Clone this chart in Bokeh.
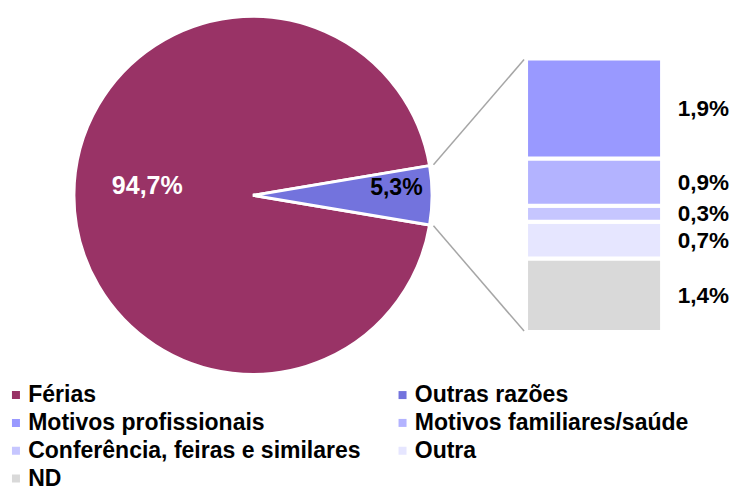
import numpy as np
from bokeh.plotting import figure
from bokeh.models import Range1d
from bokeh.core.properties import value
from bokeh.embed import file_html
from bokeh.resources import INLINE

# ---------------- data ----------------
pie_labels = ["Férias", "Outras razões"]
pie_values = [94.7, 5.3]
pie_text = ["94,7%", "5,3%"]
pie_colors = ["#993366", "#7373DD"]

bar_labels = ["Motivos profissionais", "Motivos familiares/saúde",
              "Conferência, feiras e similares", "Outra", "ND"]
bar_values = [1.9, 0.9, 0.3, 0.7, 1.4]
bar_text = ["1,9%", "0,9%", "0,3%", "0,7%", "1,4%"]
bar_colors = ["#9999FF", "#B3B3FF", "#C6C6FF", "#E6E6FF", "#D9D9D9"]

legend_labels = pie_labels + bar_labels
legend_colors = pie_colors + bar_colors

FONT = "Liberation Sans"

# ---------------- figure (layout units = 750x499 reference frame) ----------------
W, H = 734, 491
FW, FH = 750, 499
p = figure(width=W, height=H, output_backend="svg", toolbar_location=None,
           x_range=Range1d(0, FW), y_range=Range1d(-FH, 0),
           min_border=0, background_fill_color="white", border_fill_color="white")
p.axis.visible = False
p.grid.visible = False
p.outline_line_color = None

# ---------------- pie ----------------
cx, cy, R = 258, -198, 183
vals = np.array(pie_values, dtype=float)
ang = 2 * np.pi * vals / vals.sum()
half = ang[1] / 2.0
starts = [half, -half]
ends = [2 * np.pi - half, half]
p.wedge(x=[cx, cx], y=[cy, cy], radius=R, start_angle=starts, end_angle=ends,
        fill_color=pie_colors, line_color="white", line_width=3)

# ---------------- bar of pie ----------------
bar_top_px, bar_bot_px = 59, 337
bx0, bx1 = 537, 676
total = float(sum(bar_values))
k = (bar_bot_px - bar_top_px) / total
p.extra_y_ranges = {"bar": Range1d((-FH + bar_bot_px) / k, bar_bot_px / k)}

rev_vals = np.array(bar_values[::-1])
bottoms = np.concatenate([[0], np.cumsum(rev_vals)[:-1]])
tops = bottoms + rev_vals
p.quad(left=bx0, right=bx1, bottom=bottoms, top=tops,
       fill_color=bar_colors[::-1], line_color="white", line_width=4,
       y_range_name="bar")
mids = (bottoms + tops) / 2
p.text(x=[692] * len(mids), y=mids, text=bar_text[::-1], y_range_name="bar",
       text_font=value(FONT), text_font_style="bold", text_font_size="22.5px",
       text_color="black", text_align="left", text_baseline="middle")

# connector lines
r2 = R + 4
ends_x = bx0 - 2
p.line(x=[cx + r2 * np.cos(half), ends_x], y=[cy + r2 * np.sin(half), -bar_top_px - 1],
       line_color="#A6A6A6", line_width=1.5)
p.line(x=[cx + r2 * np.cos(-half), ends_x], y=[cy + r2 * np.sin(-half), -bar_bot_px + 1],
       line_color="#A6A6A6", line_width=1.5)

# pie labels
p.text(x=[150], y=[-188], text=[pie_text[0]], text_font=value(FONT),
       text_font_style="bold", text_font_size="25px", text_color="white",
       text_align="center", text_baseline="middle")
p.text(x=[404.5], y=[-189.5], text=[pie_text[1]], text_font=value(FONT),
       text_font_style="bold", text_font_size="23px", text_color="black",
       text_align="center", text_baseline="middle")

# ---------------- legend (two columns, row-major) ----------------
idx = np.arange(len(legend_labels))
rows = idx // 2
cols = idx % 2
mx = np.where(cols == 0, 15.8, 410.8)
tx = np.where(cols == 0, 28.3, 423.3)
ry = -(400 + 28.3 * rows)
p.scatter(x=mx, y=ry - 1, marker="square", size=8, fill_color=legend_colors,
          line_color=None)
p.text(x=tx, y=ry, text=legend_labels, text_font=value(FONT),
       text_font_style="bold", text_font_size="23px", text_color="black",
       text_align="left", text_baseline="middle")

open("out.html", "w").write(file_html(p, INLINE))
